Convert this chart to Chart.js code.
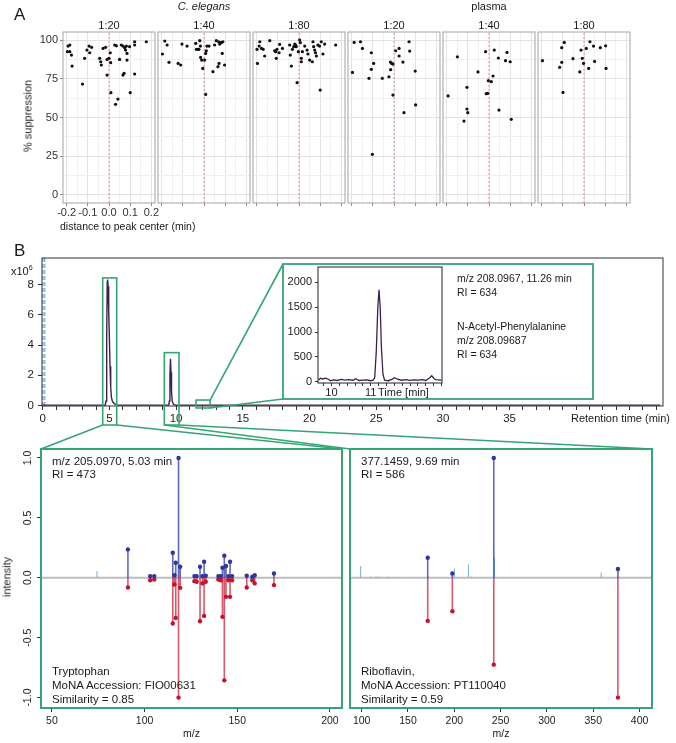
<!DOCTYPE html>
<html>
<head>
<meta charset="utf-8">
<script src="https://cdn.jsdelivr.net/npm/chart.js@4.4.1/dist/chart.umd.min.js"></script>
<style>
body{margin:0;background:#fff;}
#fig{position:relative;width:676px;height:743px;overflow:hidden;font-family:"Liberation Sans",Arial,Helvetica,sans-serif;color:#1a1a1a;}
#fig canvas{position:absolute;left:0;top:0;}
.t{position:absolute;white-space:nowrap;line-height:1;z-index:5;}
.t sup{font-size:65%;line-height:0;}
</style>
</head>
<body>
<div id="fig"></div>
<script>
// ---- panel A: % suppression vs distance to peak center ----
const groupTitles = ['C. elegans', 'plasma'];
const dilutions = ['1:20', '1:40', '1:80', '1:20', '1:40', '1:80'];
const distRange = [-0.217, 0.217];
const suppRange = [-5.2, 105.2];

const ce20Dist = [-0.193,-0.185,-0.196,-0.185,-0.177,-0.174,-0.125,-0.115,-0.104,-0.094,-0.091,-0.082,-0.044,-0.039,-0.036,-0.028,-0.016,-0.009,-0.009,0.000,0.006,0.008,0.009,0.027,0.035,0.031,0.042,0.050,0.058,0.066,0.066,0.071,0.074,0.078,0.082,0.085,0.085,0.097,0.100,0.121,0.121,0.121,0.176];
const ce20Supp = [96.1,96.8,92.5,92.5,90.3,83.2,71.6,88.2,93.5,96.1,91.8,95.3,88.2,86.0,83.9,94.6,95.3,87.5,77.4,88.2,91.8,85.4,66.0,96.8,96.3,58.5,61.9,87.5,96.8,96.1,77.4,78.5,95.1,93.5,96.1,91.4,87.1,95.7,66.0,98.9,96.8,78.1,98.9];
const ce40Dist = [-0.196,-0.185,-0.174,-0.165,-0.122,-0.110,-0.104,-0.080,-0.039,-0.036,-0.028,-0.024,-0.020,-0.017,-0.016,-0.011,-0.006,0.003,0.008,0.008,0.011,0.014,0.024,0.042,0.050,0.058,0.066,0.069,0.071,0.074,0.077,0.082,0.086,0.089,0.097];
const ce40Supp = [91.0,99.4,96.8,85.6,84.9,83.9,97.4,96.1,97.8,94.0,94.0,94.0,99.6,96.1,88.8,87.1,81.7,87.1,64.9,91.4,93.1,96.1,96.1,79.6,96.8,99.6,82.8,98.9,84.9,97.4,98.3,98.3,91.4,98.9,83.9];
const ce80Dist = [-0.198,-0.196,-0.188,-0.185,-0.177,-0.169,-0.162,-0.138,-0.115,-0.110,-0.107,-0.104,-0.094,-0.091,-0.078,-0.044,-0.041,-0.036,-0.031,-0.025,-0.020,-0.016,-0.013,-0.009,-0.003,0.003,0.006,0.011,0.011,0.016,0.027,0.038,0.042,0.050,0.063,0.066,0.069,0.074,0.078,0.082,0.089,0.097,0.100,0.105,0.113,0.121,0.173];
const ce80Supp = [94.0,84.9,96.1,98.9,94.6,94.0,89.7,99.6,93.1,92.5,88.2,94.0,91.8,97.2,94.6,96.8,90.3,83.2,94.0,95.7,97.4,96.8,95.7,72.5,92.5,100,98.3,88.2,86.0,92.5,96.1,93.5,91.0,87.1,86.0,98.9,95.7,93.5,91.8,89.7,96.8,96.1,67.7,98.9,91.0,97.4,96.8];
const pl20Dist = [-0.196,-0.188,-0.158,-0.149,-0.118,-0.107,-0.107,-0.096,-0.102,-0.055,-0.024,-0.017,-0.016,-0.011,-0.005,-0.005,0.008,0.024,0.024,0.042,0.047,0.071,0.074,0.100,0.102];
const pl20Supp = [79.1,98.5,98.9,94.6,75.3,91.8,81.1,84.9,26.2,75.3,76.3,85.8,80.9,84.9,84.5,64.5,93.1,94.6,89.7,85.8,53.1,98.9,92.9,80.0,58.1];
const pl40Dist = [-0.193,-0.149,-0.118,-0.104,-0.104,-0.100,-0.052,-0.016,-0.013,-0.006,-0.003,0.011,0.019,0.025,0.044,0.047,0.078,0.085,0.100,0.105];
const pl40Supp = [63.9,89.2,47.7,69.5,55.5,53.1,79.4,92.5,65.4,65.6,73.8,73.1,76.8,93.5,88.4,54.8,86.7,92.0,86.0,48.8];
const pl80Dist = [-0.196,-0.115,-0.105,-0.105,-0.099,-0.093,-0.052,-0.020,-0.014,-0.008,-0.002,0.011,0.022,0.028,0.045,0.050,0.077,0.102,0.104];
const pl80Supp = [86.7,82.4,85.6,95.1,66.2,98.5,88.0,79.4,93.5,88.2,84.9,94.6,81.7,98.9,96.1,86.2,95.1,96.3,81.7];

// ---- panel B: chromatogram (intensity x10^6) ----
const rtRange = [-0.05, 46.5];
const rtIntRange = [-0.035, 9.77];
const rtTime = [0,4.70,4.75,4.80,4.84,4.87,4.90,4.95,5.00,5.05,5.10,5.15,5.22,5.30,5.40,5.55,5.70,9.45,9.50,9.54,9.58,9.62,9.66,9.71,9.80,9.95,46.3];
const rtInt  = [0.02,0.02,0.3,4.5,8.2,8.35,7.9,6.3,4.5,2.6,1.2,0.55,0.3,0.18,0.1,0.04,0.02,0.02,0.3,2.0,3.1,2.2,0.9,0.3,0.08,0.02,0.02];
const voidMarks = [0.02, 0.16];
const zoomStart = [4.5, 9.12, 11.5];
const zoomEnd = [5.55, 10.22, 12.55];
const zoomTop = [8.45, 3.5, 0.36];

// inset: extracted ion chromatogram m/z 208.0967
const insetRange = [9.66, 12.81];
const insetIntRange = [-26, 2308];
const insetIntTicks = [0, 500, 1000, 1500, 2000];
const insetTimeLabels = [10, 11];
const insetTime = [9.68,9.72,9.78,9.85,9.92,9.98,10.05,10.15,10.25,10.35,10.45,10.55,10.62,10.70,10.80,10.90,11.00,11.06,11.10,11.14,11.18,11.21,11.24,11.27,11.31,11.35,11.45,11.55,11.60,11.68,11.78,11.90,12.00,12.10,12.20,12.30,12.40,12.50,12.55,12.60,12.65,12.72,12.80];
const insetInt  = [30,70,55,70,50,20,35,25,45,30,40,30,60,25,30,35,20,30,80,600,1500,1850,1500,700,150,30,20,50,80,50,30,40,25,35,30,40,25,80,120,70,40,35,30];

// ---- mirror spectra ----
const specIntRange = [-1.087, 1.075];
const trpRange = [44.1, 206.5];
const trpMz    = [91.0,103.0,105.2,115.2,116.1,116.8,118.3,119.2,126.9,128.1,129.9,131.2,132.1,133.0,139.8,141.1,142.0,143.0,143.9,145.2,146.1,147.2,155.1,158.1,159.4,169.8];
const trpQuery = [0.237,0.014,0.014,0.209,0.022,0.125,1.0,0.092,0.014,0.014,0.092,0.014,0.134,0.017,0.014,0.014,0.084,0.184,0.098,0.014,0.134,0.014,0.017,0.008,0.022,0.036];
const trpLib   = [0.081,0.020,0.014,0.382,0.056,0.335,1.0,0.084,0.028,0.033,0.363,0.047,0.318,0.033,0.014,0.020,0.326,0.856,0.159,0.020,0.159,0.020,0.081,0.020,0.047,0.061];
const trpNoiseMz = [74.3, 92.6];
const trpNoise   = [0.056, 0.010];
const ribRange = [87.4, 413.4];
const ribMz    = [171.3, 197.9, 242.6, 376.6];
const ribQuery = [0.167, 0.036, 1.0, 0.073];
const ribLib   = [0.360, 0.279, 0.725, 1.0];
const ribNoiseMz = [98.9,109.7,115.5,117.3,119.8,128.8,135.3,141.4,159.4,172.0,189.3,200.1,215.2,218.1,243.3,257.7,297.0,316.0,358.5,377.6];
const ribNoise   = [0.098,0.010,0.010,0.008,0.008,0.010,0.008,0.006,0.006,0.010,0.006,0.078,0.114,0.010,0.167,0.006,0.004,0.006,0.045,0.010];

// ---------------------------------------------------------------
const W = 676, H = 743;
const GREEN = '#36a574';
Chart.defaults.font.family = '"Liberation Sans", Arial, Helvetica, sans-serif';
Chart.defaults.color = '#222';
Chart.defaults.animation = false;
Chart.defaults.responsive = false;
Chart.defaults.events = [];
Chart.defaults.plugins.legend.display = false;
Chart.defaults.plugins.tooltip.enabled = false;

const fig = document.getElementById('fig');
function layer() {
  const c = document.createElement('canvas');
  c.width = W; c.height = H;
  fig.appendChild(c);
  return c;
}
// padding so that the chart area lands exactly on box
function pad(box, yw, xh) {
  return { left: box.l - yw, top: box.t, right: W - box.r, bottom: H - box.b - xh };
}
function framePlugin(color, width) {
  return {
    id: 'frame',
    afterDraw(chart) {
      const a = chart.chartArea, c = chart.ctx;
      c.save();
      c.strokeStyle = color; c.lineWidth = width;
      c.strokeRect(a.left, a.top, a.right - a.left, a.bottom - a.top);
      c.restore();
    }
  };
}
const pts = (xs, ys) => xs.map((x, k) => ({ x, y: ys[k] }));
const vline = (x, r) => [{ x, y: r[0] }, { x, y: r[1] }];
const isMajor = (v, step) => Math.abs(v / step - Math.round(v / step)) < 1e-6;
// stems as one broken line: 0 -> value, gap, ...
const stems = (xs, ys, sign) => xs.flatMap((x, k) => [{ x, y: 0 }, { x, y: sign * ys[k] }, { x, y: null }]);

// ---------------- panel A ----------------
const panels = [
  [ce20Dist, ce20Supp], [ce40Dist, ce40Supp], [ce80Dist, ce80Supp],
  [pl20Dist, pl20Supp], [pl40Dist, pl40Supp], [pl80Dist, pl80Supp]
];
panels.forEach(([dx, sy], i) => {
  const box = { l: 63 + 95 * i, r: 155 + 95 * i, t: 32, b: 203 };
  const first = i === 0;
  const yw = first ? 40 : 0, xh = 18;
  new Chart(layer(), {
    type: 'scatter',
    data: { datasets: [
      { data: pts(dx, sy), pointRadius: 1.6, backgroundColor: '#111', borderColor: '#111', borderWidth: 0 },
      { data: vline(0, suppRange), showLine: true, borderColor: '#ef8c8c', borderWidth: 1, borderDash: [2, 2], pointRadius: 0 }
    ]},
    options: {
      layout: { padding: pad(box, yw, xh) },
      scales: {
        x: {
          type: 'linear', min: distRange[0], max: distRange[1],
          afterFit: s => { s.height = xh; },
          border: { display: false },
          grid: {
            color: c => (c.tick && isMajor(c.tick.value, 0.1)) ? '#e2e2e2' : '#f0f0f0',
            tickLength: 3,
            tickColor: c => (c.tick && isMajor(c.tick.value, 0.1)) ? '#8a8a8a' : 'rgba(0,0,0,0)'
          },
          ticks: {
            stepSize: 0.05, includeBounds: false, autoSkip: false, maxRotation: 0, minRotation: 0,
            padding: 0, font: { size: 11 }, color: '#333',
            callback: v => (first && isMajor(v, 0.1)) ? v.toFixed(1) : ''
          }
        },
        y: {
          min: suppRange[0], max: suppRange[1],
          afterFit: s => { s.width = yw; },
          border: { display: false },
          grid: {
            color: c => (c.tick && isMajor(c.tick.value, 25)) ? '#e2e2e2' : '#f0f0f0',
            drawTicks: first, tickLength: 3,
            tickColor: c => (c.tick && isMajor(c.tick.value, 25)) ? '#8a8a8a' : 'rgba(0,0,0,0)'
          },
          ticks: {
            stepSize: 12.5, includeBounds: false, padding: 2, font: { size: 11 }, color: '#333',
            callback: v => (first && isMajor(v, 25)) ? String(Math.round(v)) : ''
          }
        }
      }
    },
    plugins: [framePlugin('#a3a3a3', 1)]
  });
});

// ---------------- panel B: chromatogram ----------------
const rtBox = { l: 42, r: 663, t: 258, b: 406 };
const insetFrame = { l: 283, t: 264, r: 593, b: 399 };
const insetBox = { l: 318, r: 442, t: 267, b: 383 };
const trpBox = { l: 41, r: 342, t: 449, b: 708 };
const ribBox = { l: 350, r: 652, t: 449, b: 708 };
const zoomBottom = [425, 425, 408];

const zoomPlugin = {
  id: 'zoomboxes',
  afterDraw(chart) {
    const c = chart.ctx, xs = chart.scales.x, ys = chart.scales.y;
    c.save();
    c.strokeStyle = GREEN; c.lineWidth = 1.6;
    const boxes = zoomStart.map((s, k) => ({
      l: xs.getPixelForValue(s), r: xs.getPixelForValue(zoomEnd[k]),
      t: ys.getPixelForValue(zoomTop[k]), b: zoomBottom[k]
    }));
    boxes.forEach(b => c.strokeRect(b.l, b.t, b.r - b.l, b.b - b.t));
    const seg = (x1, y1, x2, y2) => { c.beginPath(); c.moveTo(x1, y1); c.lineTo(x2, y2); c.stroke(); };
    const [b0, b1, b2] = boxes;
    seg(b0.l, b0.b, trpBox.l, trpBox.t); seg(b0.r, b0.b, trpBox.r, trpBox.t);
    seg(b1.l, b1.b, ribBox.l, ribBox.t); seg(b1.r, b1.b, ribBox.r, ribBox.t);
    seg(b2.r, b2.t, insetFrame.l, insetFrame.t); seg(b2.r, b2.b, insetFrame.l, insetFrame.b);
    c.restore();
  }
};

new Chart(layer(), {
  type: 'scatter',
  data: { datasets: [
    { data: pts(rtTime, rtInt), showLine: true, borderColor: '#3b2150', borderWidth: 1.4, pointRadius: 0 },
    ...voidMarks.map(t => ({ data: vline(t, rtIntRange), showLine: true, borderColor: '#4f95d6', borderWidth: 1, borderDash: [4, 2], pointRadius: 0 }))
  ]},
  options: {
    layout: { padding: pad(rtBox, 42, 20) },
    scales: {
      x: {
        type: 'linear', min: rtRange[0], max: rtRange[1],
        afterFit: s => { s.height = 20; },
        border: { display: false },
        grid: { drawOnChartArea: false, tickLength: 4, tickColor: '#333' },
        ticks: {
          stepSize: 1, includeBounds: false, autoSkip: false, maxRotation: 0, minRotation: 0,
          padding: 2, font: { size: 11.5 }, color: '#222',
          callback: v => (isMajor(v, 5) && v <= 35) ? String(Math.round(v)) : ''
        }
      },
      y: {
        min: rtIntRange[0], max: rtIntRange[1],
        afterFit: s => { s.width = 42; },
        border: { display: false },
        grid: { drawOnChartArea: false, tickLength: 4, tickColor: '#333' },
        ticks: {
          stepSize: 1, includeBounds: false, padding: 4, font: { size: 11.5 }, color: '#222',
          callback: v => isMajor(v, 2) ? String(Math.round(v)) : ''
        }
      }
    }
  },
  plugins: [framePlugin('#333', 1), zoomPlugin]
});

// inset EIC
new Chart(layer(), {
  type: 'scatter',
  data: { datasets: [
    { data: pts(insetTime, insetInt), showLine: true, borderColor: '#3b2150', borderWidth: 1.3, pointRadius: 0 }
  ]},
  options: {
    layout: { padding: pad(insetBox, insetBox.l - insetFrame.l, 14) },
    scales: {
      x: {
        type: 'linear', min: insetRange[0], max: insetRange[1],
        afterFit: s => { s.height = 14; },
        border: { display: false },
        grid: { drawOnChartArea: false, tickLength: 3, tickColor: '#333' },
        ticks: {
          stepSize: 0.2, includeBounds: false, autoSkip: false, maxRotation: 0, minRotation: 0,
          padding: 0, font: { size: 11 }, color: '#222',
          callback: v => {
            const hit = insetTimeLabels.find(t => Math.abs(t - v) < 1e-6);
            return hit === undefined ? '' : String(hit);
          }
        }
      },
      y: {
        min: insetIntRange[0], max: insetIntRange[1],
        afterFit: s => { s.width = insetBox.l - insetFrame.l; },
        afterBuildTicks: s => { s.ticks = insetIntTicks.map(value => ({ value })); },
        border: { display: false },
        grid: { drawOnChartArea: false, tickLength: 3, tickColor: '#333' },
        ticks: { padding: 3, font: { size: 11 }, color: '#222', callback: v => String(v) }
      }
    }
  },
  plugins: [{
    id: 'insetBg',
    beforeDraw(chart) {
      const c = chart.ctx, f = insetFrame;
      c.save();
      c.fillStyle = '#fff';
      c.fillRect(f.l, f.t, f.r - f.l, f.b - f.t);
      c.strokeStyle = GREEN; c.lineWidth = 1.8;
      c.strokeRect(f.l, f.t, f.r - f.l, f.b - f.t);
      c.restore();
    }
  }, framePlugin('#222', 1)]
});

// ---------------- mirror spectra ----------------
function spectrum(box, xr, mz, q, lib, nMz, nInt, withY) {
  const yw = withY ? 36 : 0;
  return new Chart(layer(), {
    type: 'scatter',
    data: { datasets: [
      { data: pts(mz, q), pointRadius: 2.2, backgroundColor: '#2e379a', borderWidth: 0 },
      { data: mz.map((x, k) => ({ x, y: -lib[k] })), pointRadius: 2.2, backgroundColor: '#c4132f', borderWidth: 0 },
      { data: stems(mz, q, 1), showLine: true, borderColor: 'rgba(45,55,165,0.75)', borderWidth: 1.6, pointRadius: 0 },
      { data: stems(mz, lib, -1), showLine: true, borderColor: 'rgba(200,25,50,0.72)', borderWidth: 1.6, pointRadius: 0 },
      { data: stems(nMz, nInt, 1), showLine: true, borderColor: '#6eb3ea', borderWidth: 1, pointRadius: 0 },
      { data: [{ x: xr[0], y: 0 }, { x: xr[1], y: 0 }], showLine: true, borderColor: '#bdbdbd', borderWidth: 2, pointRadius: 0 }
    ]},
    options: {
      layout: { padding: pad(box, yw, 20) },
      scales: {
        x: {
          type: 'linear', min: xr[0], max: xr[1],
          afterFit: s => { s.height = 20; },
          border: { display: false },
          grid: { drawOnChartArea: false, tickLength: 4, tickColor: '#333' },
          ticks: { stepSize: 50, includeBounds: false, autoSkip: false, maxRotation: 0, minRotation: 0,
                   padding: 3, font: { size: 10.5 }, color: '#222', callback: v => String(Math.round(v)) }
        },
        y: {
          display: withY,
          min: specIntRange[0], max: specIntRange[1],
          afterFit: s => { s.width = yw; },
          border: { display: false },
          grid: { drawOnChartArea: false, tickLength: 4, tickColor: '#333' },
          ticks: { stepSize: 0.5, includeBounds: false, padding: 0, font: { size: 10.5 }, color: '#222',
                   minRotation: 90, maxRotation: 90, crossAlign: 'center',
                   callback: v => v.toFixed(1) }
        }
      }
    },
    plugins: [framePlugin(GREEN, 2)]
  });
}
spectrum(trpBox, trpRange, trpMz, trpQuery, trpLib, trpNoiseMz, trpNoise, true);
spectrum(ribBox, ribRange, ribMz, ribQuery, ribLib, ribNoiseMz, ribNoise, false);

// ---------------- text ----------------
function txt(s, x, y, size, opt = {}) {
  const d = document.createElement('div');
  d.className = 't';
  d.innerHTML = s;
  d.style.fontSize = size + 'px';
  d.style.left = x + 'px';
  d.style.top = (y - size * 0.5) + 'px';
  if (opt.align === 'center') d.style.transform = 'translateX(-50%)';
  if (opt.rot) { d.style.top = y + 'px'; d.style.transform = 'translate(-50%,-50%) rotate(-90deg)'; }
  if (opt.italic) d.style.fontStyle = 'italic';
  fig.appendChild(d);
}
txt('A', 14, 14.5, 17);
txt(groupTitles[0], 204, 6.5, 11, { align: 'center', italic: true });
txt(groupTitles[1], 489, 6.5, 11, { align: 'center' });
dilutions.forEach((d, i) => txt(d, 109 + 95 * i, 25, 11, { align: 'center' }));
txt('% suppression', 28, 116, 11, { rot: true });
txt('distance to peak center (min)', 60, 226, 10.5);

txt('B', 14, 250.5, 17);
txt('x10<sup>6</sup>', 11, 271, 11);
txt('Retention time (min)', 571, 418, 11);
txt('m/z 208.0967, 11.26 min', 457, 278, 10.5);
txt('RI = 634', 457, 292, 10.5);
txt('N-Acetyl-Phenylalanine', 457, 326, 10.5);
txt('m/z 208.09687', 457, 340, 10.5);
txt('RI = 634', 457, 354, 10.5);
txt('Time [min]', 378, 392, 11);

txt('m/z 205.0970, 5.03 min', 52, 461.5, 11.5);
txt('RI = 473', 52, 474.5, 11.5);
txt('Tryptophan', 52, 672, 11.5);
txt('MoNA Accession: FIO00631', 52, 686, 11.5);
txt('Similarity = 0.85', 52, 700, 11.5);
txt('377.1459, 9.69 min', 361, 461.5, 11.5);
txt('RI = 586', 361, 474.5, 11.5);
txt('Riboflavin,', 361, 672, 11.5);
txt('MoNA Accession: PT110040', 361, 686, 11.5);
txt('Similarity = 0.59', 361, 700, 11.5);
txt('intensity', 7, 577, 11, { rot: true });
txt('m/z', 191.5, 733.5, 10.5, { align: 'center' });
txt('m/z', 501, 733.5, 10.5, { align: 'center' });
</script>
</body>
</html>
